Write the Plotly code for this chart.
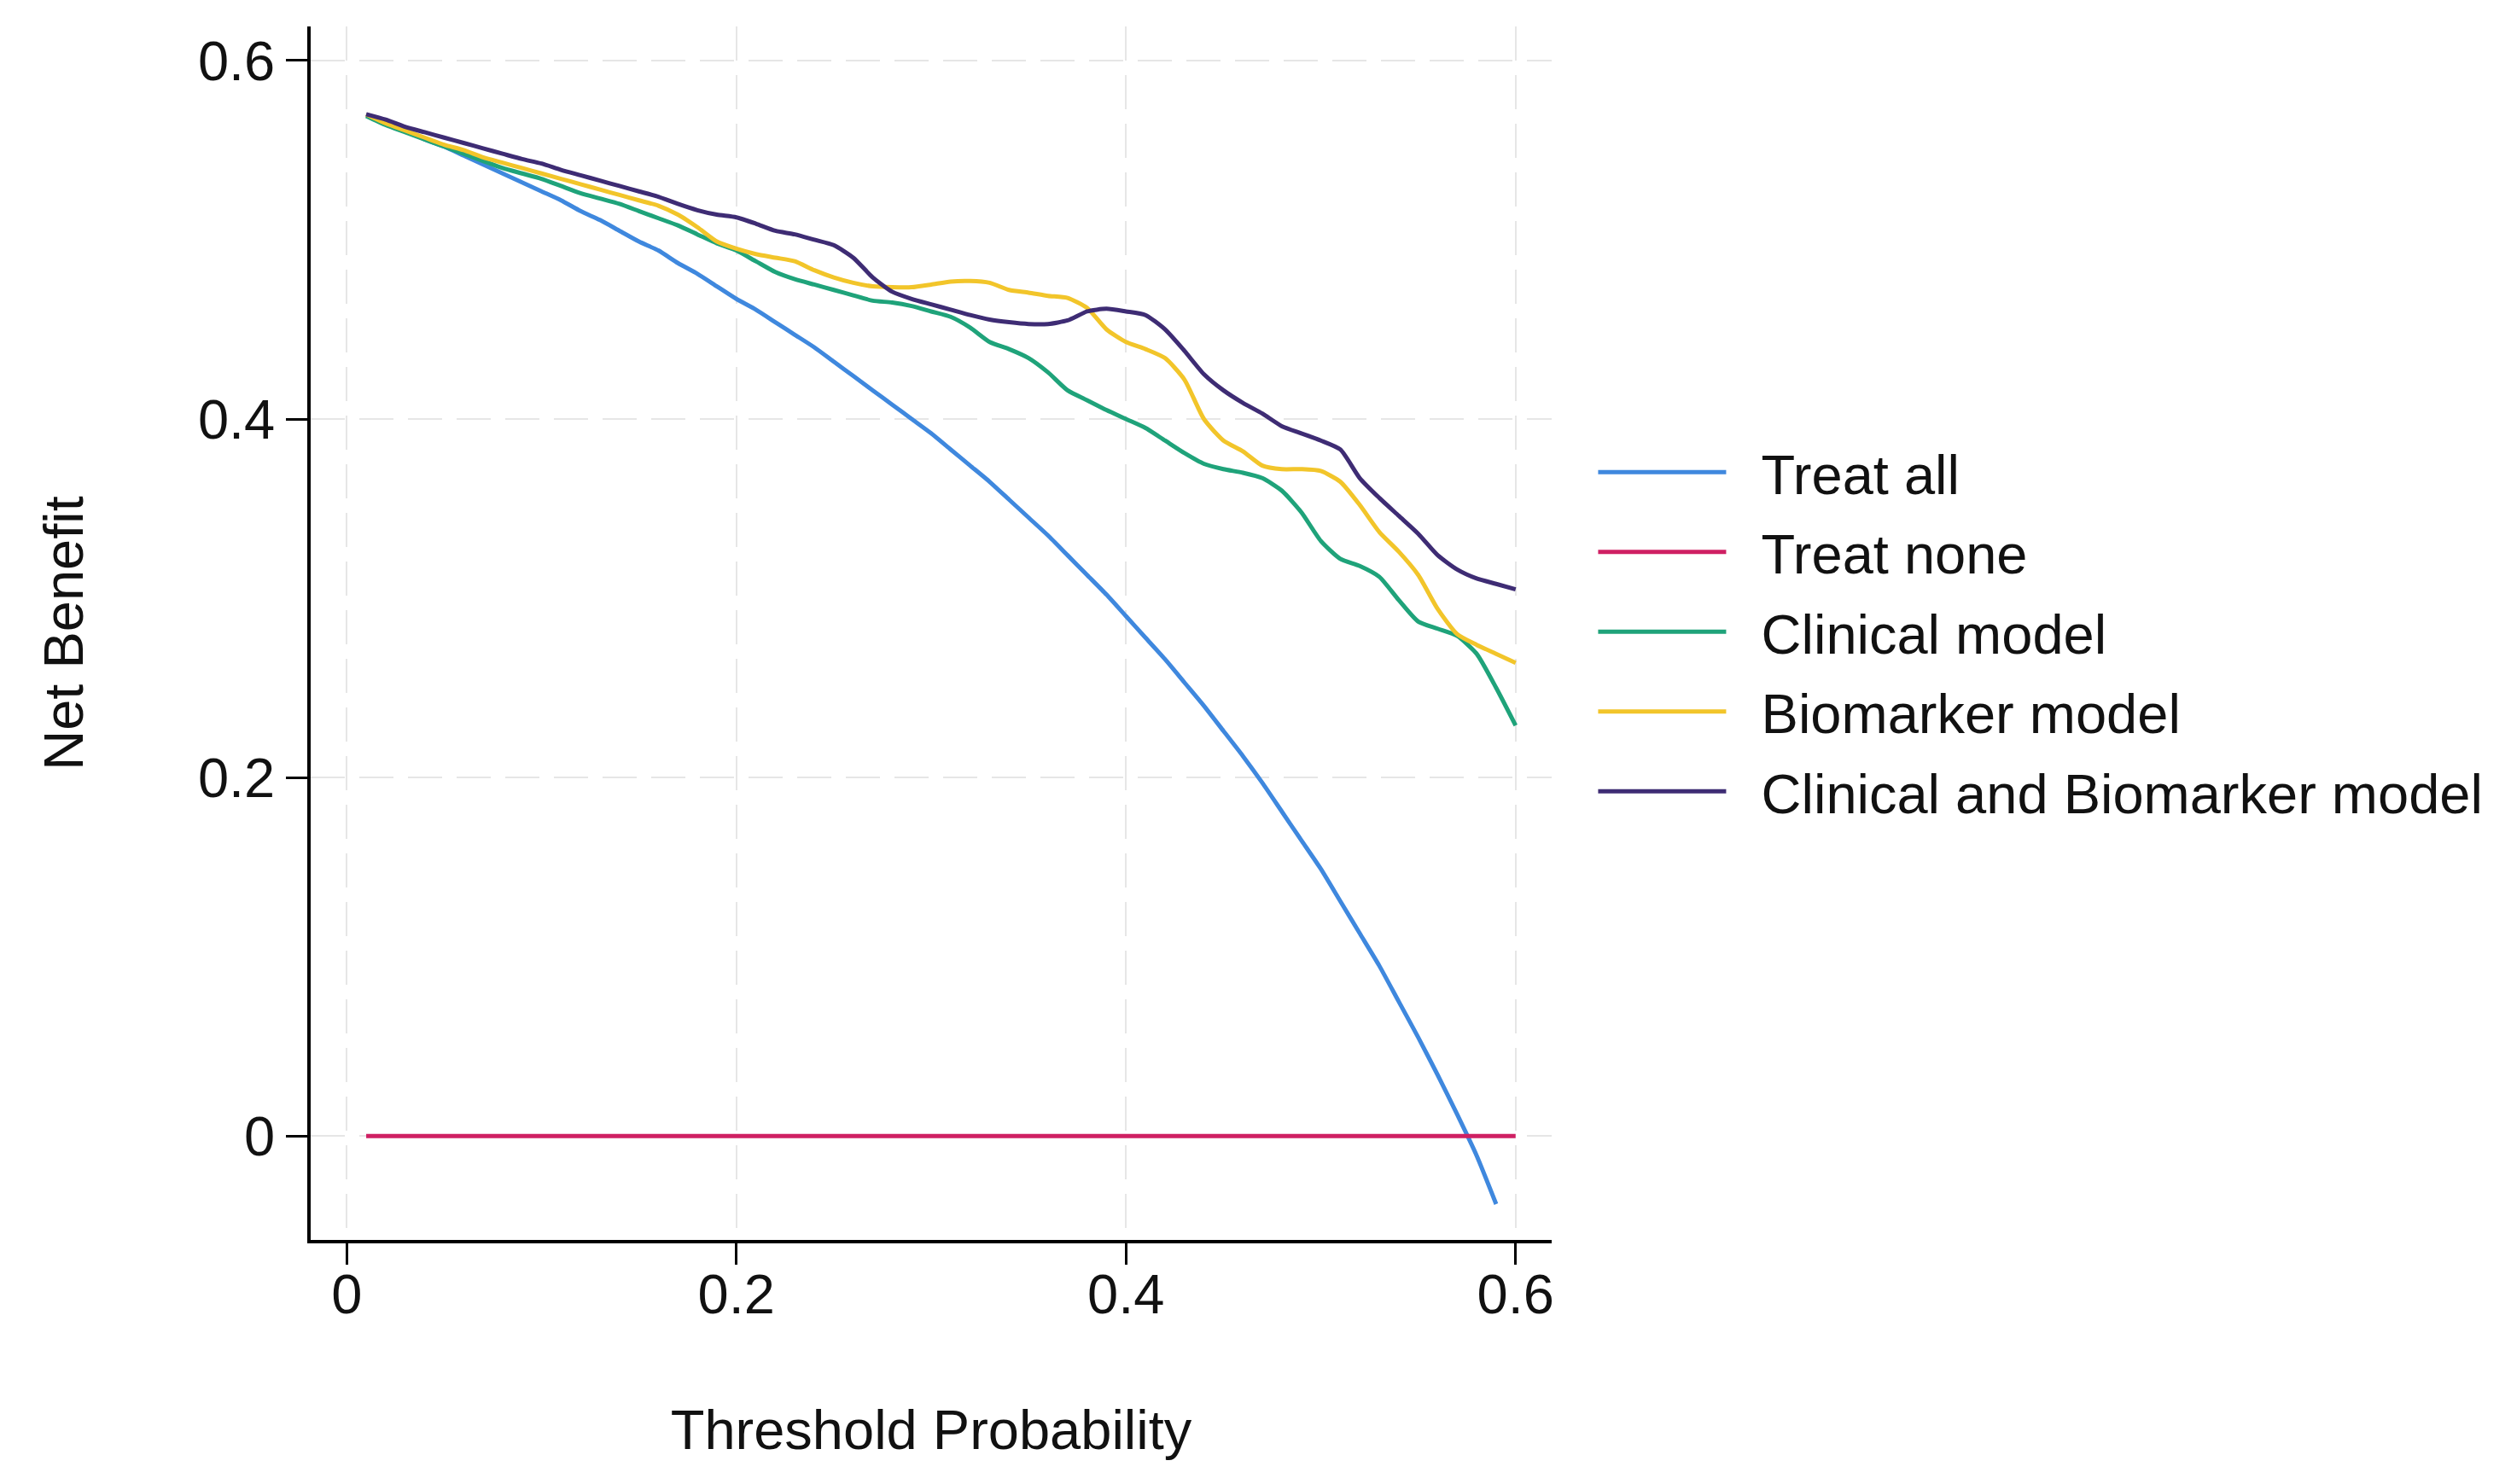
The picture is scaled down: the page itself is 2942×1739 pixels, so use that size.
import plotly.graph_objects as go

# Threshold probabilities (0.01 .. 0.60)
thresholds = [round(0.01 * i, 2) for i in range(1, 61)]

treat_all = [0.570, 0.565, 0.561, 0.556, 0.552, 0.547, 0.542, 0.537, 0.532, 0.527,
             0.522, 0.516, 0.511, 0.505, 0.499, 0.494, 0.487, 0.481, 0.474, 0.467,
             0.461, 0.454, 0.447, 0.440, 0.432, 0.424, 0.416, 0.408, 0.400, 0.392,
             0.383, 0.374, 0.365, 0.355, 0.345, 0.335, 0.324, 0.313, 0.302, 0.290,
             0.278, 0.266, 0.253, 0.240, 0.226, 0.212, 0.197, 0.181, 0.165, 0.149,
             0.131, 0.113, 0.095, 0.075, 0.055, 0.034, 0.012, -0.011, -0.038]
treat_all_x = thresholds[:59]

treat_none = [0.0] * 60

clinical = [0.569, 0.564, 0.560, 0.556, 0.552, 0.548, 0.544, 0.540, 0.537, 0.534,
            0.530, 0.526, 0.523, 0.520, 0.516, 0.512, 0.508, 0.503, 0.498, 0.494,
            0.488, 0.482, 0.478, 0.475, 0.472, 0.469, 0.466, 0.465, 0.463, 0.460,
            0.457, 0.451, 0.443, 0.439, 0.434, 0.426, 0.416, 0.4105, 0.405, 0.400,
            0.395, 0.388, 0.381, 0.375, 0.372, 0.370, 0.367, 0.360, 0.348, 0.332,
            0.322, 0.318, 0.312, 0.299, 0.287, 0.283, 0.279, 0.269, 0.250, 0.229]

biomarker = [0.570, 0.565, 0.561, 0.557, 0.553, 0.550, 0.546, 0.543, 0.540, 0.537,
             0.534, 0.531, 0.528, 0.525, 0.522, 0.519, 0.514, 0.507, 0.499, 0.495,
             0.492, 0.490, 0.488, 0.483, 0.479, 0.476, 0.474, 0.4735, 0.4735, 0.475,
             0.4767, 0.477, 0.476, 0.472, 0.4705, 0.4687, 0.4675, 0.462, 0.450, 0.443,
             0.439, 0.434, 0.422, 0.400, 0.388, 0.382, 0.374, 0.372, 0.372, 0.371,
             0.365, 0.352, 0.337, 0.326, 0.313, 0.294, 0.280, 0.274, 0.269, 0.264]

combined = [0.570, 0.567, 0.563, 0.560, 0.557, 0.554, 0.551, 0.548, 0.545, 0.5425,
            0.539, 0.536, 0.533, 0.530, 0.527, 0.524, 0.520, 0.5165, 0.514, 0.5125,
            0.509, 0.505, 0.503, 0.500, 0.497, 0.490, 0.479, 0.471, 0.467, 0.464,
            0.461, 0.458, 0.4555, 0.454, 0.453, 0.453, 0.455, 0.460, 0.4615, 0.460,
            0.458, 0.450, 0.438, 0.425, 0.416, 0.409, 0.403, 0.396, 0.392, 0.388,
            0.383, 0.367, 0.356, 0.346, 0.336, 0.324, 0.316, 0.311, 0.308, 0.305]

series_names = ["Treat all", "Treat none", "Clinical model", "Biomarker model",
                "Clinical and Biomarker model"]
series_colors = ["#3F88DE", "#CF2063", "#1FA37A", "#F2C52A", "#3E2C74"]

x_ticks = [0, 0.2, 0.4, 0.6]
y_ticks = [0, 0.2, 0.4, 0.6]

FONT = "Liberation Sans, Arial, sans-serif"
PAD = "\u00a0\u00a0"

fig = go.Figure()
data = [
    (treat_all_x, treat_all, 5),
    (thresholds, treat_none, 5),
    (thresholds, clinical, 5),
    (thresholds, biomarker, 5),
    (thresholds, combined, 5),
]
for (xs, ys, w), name, color in zip(data, series_names, series_colors):
    fig.add_trace(go.Scatter(
        x=xs, y=ys, mode="lines", name=PAD + name,
        line=dict(color=color, width=w, shape="spline", smoothing=0.6),
        legendgroup=name,
    ))

axis_common = dict(
    showline=True, linecolor="black", linewidth=3.5,
    ticks="outside", ticklen=25, tickwidth=3, tickcolor="black",
    showgrid=True, gridcolor="#E6E6E6", gridwidth=2, griddash="40px,17px",
    zeroline=False, mirror=False,
    tickfont=dict(family=FONT, size=65, color="#111111"),
)

fig.update_layout(
    width=2926, height=1723,
    margin=dict(l=356, r=1116, t=23, b=278, autoexpand=False),
    paper_bgcolor="white", plot_bgcolor="white",
    font=dict(family=FONT, size=65, color="#111111"),
    showlegend=True,
    legend=dict(
        x=1.034, y=0.501, xanchor="left", yanchor="middle",
        font=dict(family=FONT, size=65, color="#111111"),
        itemwidth=150, traceorder="grouped", tracegroupgap=6,
        bgcolor="rgba(0,0,0,0)", borderwidth=0,
    ),
)
fig.update_xaxes(
    range=[-0.0185, 0.6185], tickvals=x_ticks, tickformat="~g",
    ticklabelstandoff=-21,
    title=dict(text="Threshold Probability", font=dict(family=FONT, size=65), standoff=102),
    **axis_common,
)
fig.update_yaxes(
    range=[-0.058, 0.619], tickvals=y_ticks, tickformat="~g",
    title=dict(text="Net Benefit", font=dict(family=FONT, size=65), standoff=114),
    **axis_common,
)

fig.write_html("out.html")
